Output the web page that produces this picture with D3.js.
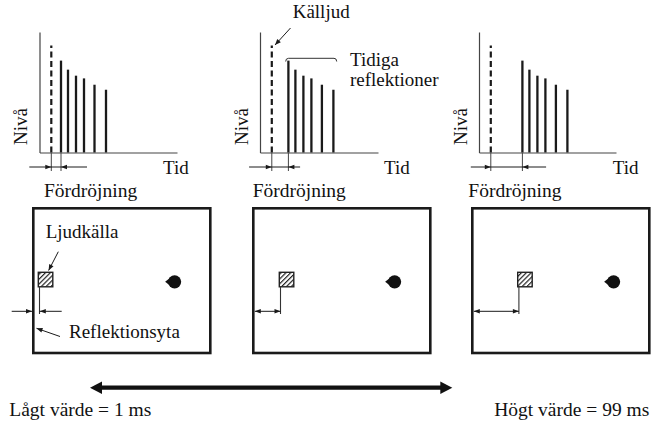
<!DOCTYPE html>
<html>
<head>
<meta charset="utf-8">
<script src="https://cdn.jsdelivr.net/npm/d3@7"></script>
<style>
  body { margin: 0; background: #fff; }
  svg { display: block; font-family: "Liberation Serif", "Times New Roman", serif; }
  text { fill: #111; }
</style>
</head>
<body>
<script>
// data
var delays = [9.7, 16.6, 31.6];                // delay from direct sound to first reflection
var reflTimes = [0, 7, 15, 23, 33.5, 45];      // reflections, relative to the first one
var reflLevels = [91.5, 82.5, 76.5, 73.8, 67.5, 62.5];
var directTime = 11.8;
var directLevel = 106.5;
var sourceOffsets = [5, 26, 45.4];             // source distance from the reflecting wall
var axisLengths = [137.5, 118, 137];
var bottomLabels = ["Lågt värde = 1 ms", "Högt värde = 99 ms"];

// layout
var width = 651, height = 424;
var axisX = [39.5, 260, 479];
var tidX = [163, 384, 612.7];
var delayLabelX = [44, 252.7, 468.3];
var delayExt = [[22, 26], [22.7, 11.7], [20, 23.7]];
var roomX = [33.3, 253.3, 472.3];
var roomW = 177, roomTop = 208.3, roomBottom = 353;
var baseY = 152.5;
var ink = "#1a1a1a";

var svg = d3.select("body").append("svg")
  .attr("width", width)
  .attr("height", height);

var defs = svg.append("defs");
var pat = defs.append("pattern")
  .attr("id", "hatch")
  .attr("patternUnits", "userSpaceOnUse")
  .attr("width", 3.4).attr("height", 3.4)
  .attr("patternTransform", "rotate(45)");
pat.append("rect").attr("width", 3.4).attr("height", 3.4).attr("fill", "#fff");
pat.append("line").attr("x1", 0).attr("y1", 0).attr("x2", 0).attr("y2", 3.4)
  .attr("stroke", "#222").attr("stroke-width", 2.4);

var yScale = d3.scaleLinear().domain([0, 120]).range([baseY, 32]);

// arrowhead path with tip at (x, y) pointing in direction ang (radians)
function head(x, y, ang, len, half) {
  var c = Math.cos(ang), s = Math.sin(ang);
  var bx = x - c * len, by = y - s * len;
  return "M" + x + "," + y +
    "L" + (bx - s * half) + "," + (by + c * half) +
    "L" + (bx + s * half) + "," + (by - c * half) + "Z";
}

function arrow(g, x1, y1, x2, y2, len, half, w) {
  g.append("line")
    .attr("x1", x1).attr("y1", y1).attr("x2", x2).attr("y2", y2)
    .attr("stroke", ink).attr("stroke-width", w || 1);
  g.append("path")
    .attr("d", head(x2, y2, Math.atan2(y2 - y1, x2 - x1), len || 6, half || 2.5))
    .attr("fill", ink);
}

delays.forEach(function(delay, p) {
  var g = svg.append("g").attr("class", "panel");
  var x = d3.scaleLinear().domain([0, axisLengths[p]]).range([axisX[p], axisX[p] + axisLengths[p]]);

  // axes (no ticks)
  g.append("g")
    .attr("transform", "translate(0," + baseY + ")")
    .call(d3.axisBottom(x).tickValues([]).tickSizeOuter(0))
    .select(".domain").attr("stroke", "#444").attr("stroke-width", 1.2);
  g.append("g")
    .attr("transform", "translate(" + axisX[p] + ",0)")
    .call(d3.axisLeft(yScale.copy().domain([0, 120.5])).tickValues([]).tickSizeOuter(0))
    .select(".domain").attr("stroke", "#444").attr("stroke-width", 1.2);

  // direct sound
  g.append("line")
    .attr("x1", x(directTime)).attr("x2", x(directTime))
    .attr("y1", yScale(0)).attr("y2", yScale(directLevel))
    .attr("stroke", ink).attr("stroke-width", 2.2)
    .attr("stroke-dasharray", "6,3.5");

  // early reflections
  g.selectAll(".refl")
    .data(reflTimes)
    .enter().append("line")
    .attr("class", "refl")
    .attr("x1", function(d) { return x(directTime + delay + d); })
    .attr("x2", function(d) { return x(directTime + delay + d); })
    .attr("y1", yScale(0))
    .attr("y2", function(d, i) { return yScale(reflLevels[i]); })
    .attr("stroke", ink).attr("stroke-width", 2.3);

  // delay dimension
  var xd = x(directTime), xr = x(directTime + delay);
  [xd, xr].forEach(function(xx) {
    g.append("line").attr("x1", xx).attr("x2", xx).attr("y1", baseY).attr("y2", 171)
      .attr("stroke", "#444").attr("stroke-width", 1);
  });
  g.append("line")
    .attr("x1", xd - delayExt[p][0]).attr("x2", xr + delayExt[p][1])
    .attr("y1", 167).attr("y2", 167)
    .attr("stroke", ink).attr("stroke-width", 1);
  g.append("path").attr("d", head(xd, 167, 0, 6, 2.3)).attr("fill", ink);
  g.append("path").attr("d", head(xr, 167, Math.PI, 6, 2.3)).attr("fill", ink);

  // labels
  g.append("text")
    .attr("transform", "translate(" + (axisX[p] - 12.5) + ",145) rotate(-90)")
    .style("font-size", "19px")
    .text("Nivå");
  g.append("text")
    .attr("x", tidX[p]).attr("y", 174)
    .style("font-size", "19px")
    .text("Tid");
  g.append("text")
    .attr("x", delayLabelX[p]).attr("y", 196.7)
    .style("font-size", "19.5px")
    .text("Fördröjning");

  // room
  var rx = roomX[p];
  g.append("rect")
    .attr("x", rx).attr("y", roomTop)
    .attr("width", roomW).attr("height", roomBottom - roomTop)
    .attr("fill", "none").attr("stroke", ink).attr("stroke-width", 2.6);

  var sx = rx + sourceOffsets[p];
  g.append("rect")
    .attr("x", sx).attr("y", 272.3)
    .attr("width", 14.5).attr("height", 14.5)
    .attr("fill", "url(#hatch)").attr("stroke", "#222").attr("stroke-width", 1.4);
  g.append("line")
    .attr("x1", sx + 1.2).attr("x2", sx + 1.2).attr("y1", 287).attr("y2", 314)
    .attr("stroke", "#333").attr("stroke-width", 1.1);

  if (p === 0) {
    arrow(g, 11.7, 311.3, rx - 1.3, 311.3, 6, 2.3);
    arrow(g, 61.7, 311.3, sx + 1.5, 311.3, 6, 2.3);
  } else {
    var a = rx + 1.5, b = sx + 1.2;
    g.append("line").attr("x1", a).attr("x2", b).attr("y1", 311.3).attr("y2", 311.3)
      .attr("stroke", ink).attr("stroke-width", 1);
    g.append("path").attr("d", head(a, 311.3, Math.PI, 6, 2.3)).attr("fill", ink);
    g.append("path").attr("d", head(b, 311.3, 0, 6, 2.3)).attr("fill", ink);
  }

  // listener
  var lx = rx + 141.3, ly = 281.8;
  g.append("circle").attr("cx", lx).attr("cy", ly).attr("r", 6.6).attr("fill", "#111");
  g.append("path")
    .attr("d", "M" + (lx - 9.5) + "," + ly + "L" + (lx - 3) + "," + (ly - 5) + "L" + (lx - 3) + "," + (ly + 5) + "Z")
    .attr("fill", "#111");
});

// annotations
var ann = svg.append("g");
ann.append("text").attr("x", 292.7).attr("y", 17.5).style("font-size", "19px").text("Källjud");
arrow(ann, 290.5, 28, 275, 45, 6, 2.4);

ann.append("path")
  .attr("d", "M285.7,61.5 Q285.7,58.3 288.5,58.3 L334,58.3 Q336.7,58.3 336.7,61.5")
  .attr("fill", "none").attr("stroke", "#333").attr("stroke-width", 1);
ann.append("text").attr("x", 350).attr("y", 66).style("font-size", "19px").text("Tidiga");
ann.append("text").attr("x", 350).attr("y", 86.3).style("font-size", "19px").text("reflektioner");

ann.append("text").attr("x", 45.7).attr("y", 238.3).style("font-size", "19px").text("Ljudkälla");
arrow(ann, 58.3, 251.7, 48.6, 270.5, 6, 2.4);

ann.append("text").attr("x", 69).attr("y", 338.3).style("font-size", "19px").text("Reflektionsyta");
arrow(ann, 60, 336.5, 36.5, 328.3, 6, 2.4);

// bottom range arrow
ann.append("line")
  .attr("x1", 98).attr("x2", 444).attr("y1", 387.7).attr("y2", 387.7)
  .attr("stroke", "#111").attr("stroke-width", 4.2);
ann.append("path").attr("d", head(90, 387.7, Math.PI, 12, 6.2)).attr("fill", "#111");
ann.append("path").attr("d", head(452.3, 387.7, 0, 12, 6.2)).attr("fill", "#111");

ann.append("text").attr("x", 9.3).attr("y", 416).style("font-size", "19.5px").text(bottomLabels[0]);
ann.append("text").attr("x", 649.3).attr("y", 416).attr("text-anchor", "end")
  .style("font-size", "19.5px").text(bottomLabels[1]);
</script>
</body>
</html>
